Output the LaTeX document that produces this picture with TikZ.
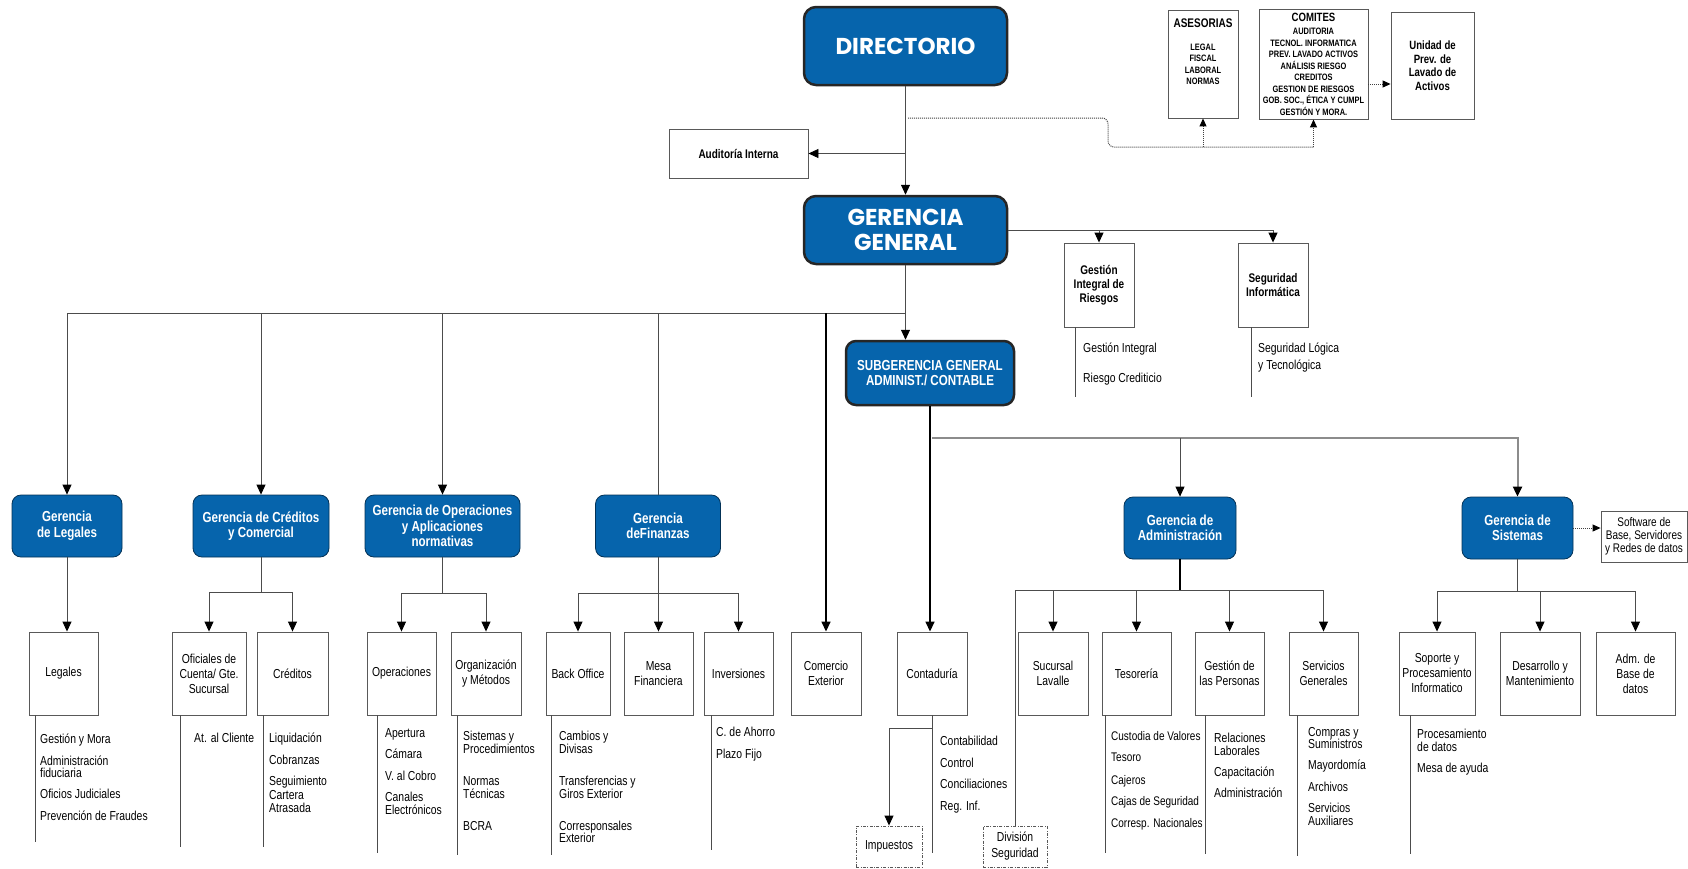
\documentclass[tikz,border=0pt]{standalone}
\usepackage{fontspec}
\usetikzlibrary{arrows.meta}
\newfontfamily\cond{Liberation Sans}[FakeStretch=0.8]
\newfontfamily\titulo{Poppins}
\definecolor{azul}{RGB}{6,100,172}
\tikzset{
  jefe/.style={draw=black!85, line width=2.5pt, fill=azul, rounded corners=12pt, text=white,
    font=\titulo\bfseries\fontsize{23}{25.5}\selectfont, align=center, inner sep=0pt},
  subjefe/.style={jefe, rounded corners=10pt, font=\cond\bfseries\fontsize{14.5}{14.5}\selectfont},
  gerencia/.style={draw=azul!50!black, line width=0.8pt, fill=azul, rounded corners=9pt, text=white,
    font=\cond\bfseries\fontsize{14.5}{15.5}\selectfont, align=center, inner sep=0pt, minimum height=62pt},
  caja/.style={draw=black!65, line width=0.9pt, fill=white, align=center, inner sep=0pt,
    minimum height=83pt, font=\cond\fontsize{13}{15}\selectfont},
  cajab/.style={caja, font=\cond\bfseries\fontsize{12.5}{14}\selectfont},
  discont/.style={caja, dash pattern=on 3pt off 1.5pt on 0.8pt off 1.5pt, minimum height=41pt, font=\cond\fontsize{13}{16}\selectfont},
  chico/.style={align=center, inner sep=0pt, font=\cond\bfseries\fontsize{9.3}{11.5}\selectfont},
  lista/.style={anchor=north west, align=left, inner sep=0pt, font=\cond\fontsize{13}{12.5}\selectfont},
  linea/.style={draw=black!70, line width=0.9pt},
  flecha/.style={linea, -{Triangle[length=10pt,width=9pt,color=black]}},
  gruesa/.style={draw=black, line width=1.5pt},
  punteo/.style={draw=black!75, line width=1pt, densely dotted},
  punteoflecha/.style={punteo, -{Triangle[length=8pt,width=7pt,color=black]}}
}
\begin{document}
\begin{tikzpicture}[x=1pt,y=-1pt]
  \fill[white] (0,0) rectangle (1688,868);
  \useasboundingbox (0,0) rectangle (1688,868);

  % direccion
  \node[jefe, minimum width=203pt, minimum height=78pt] (dir) at (905.5,46) {DIRECTORIO};
  \node[jefe, minimum width=203pt, minimum height=68pt] (gg) at (905.5,230) {GERENCIA\\GENERAL};
  \node[cajab, minimum width=139pt, minimum height=49pt] (audit) at (738.5,153.5) {Auditoría Interna};
  \node[caja, minimum width=70pt, minimum height=108pt] (ases) at (1203,64) {};
  \node[chico, anchor=north] (ases-t) at (1203,19) {{\fontsize{12.5}{14}\selectfont ASESORIAS}\\[11pt]LEGAL\\FISCAL\\LABORAL\\NORMAS};
  \node[caja, minimum width=109pt, minimum height=110pt] (comit) at (1313.5,64) {};
  \node[chico, anchor=north] (comit-t) at (1313.5,12.5) {{\fontsize{12}{14}\selectfont COMITES}\\[2.4pt]AUDITORIA\\TECNOL. INFORMATICA\\PREV. LAVADO ACTIVOS\\ANÁLISIS RIESGO\\CREDITOS\\GESTION DE RIESGOS\\GOB. SOC., ÉTICA Y CUMPL\\GESTIÓN Y MORA.};
  \node[cajab, font=\cond\bfseries\fontsize{12}{13.5}\selectfont, minimum width=83pt, minimum height=107pt] (unidad) at (1432.5,65.5) {Unidad de\\Prev. de\\Lavado de\\Activos};
  \node[cajab, minimum width=70pt, minimum height=84pt] (gir) at (1099,285) {Gestión\\Integral de\\Riesgos};
  \node[cajab, minimum width=70pt, minimum height=84pt] (seginf) at (1273,285) {Seguridad\\Informática};
  \node[subjefe, minimum width=168pt, minimum height=64pt] (subg) at (930,373) {SUBGERENCIA GENERAL\\ADMINIST./ CONTABLE};

  % gerencias
  \node[gerencia, minimum width=110pt] (gleg) at (67,526) {Gerencia\\de Legales};
  \node[gerencia, minimum width=136pt] (gcred) at (261,526) {Gerencia de Créditos\\y Comercial};
  \node[gerencia, minimum width=155pt] (gop) at (442.5,526) {Gerencia de Operaciones\\y Aplicaciones\\normativas};
  \node[gerencia, minimum width=125pt] (gfin) at (658,526) {Gerencia\\deFinanzas};
  \node[gerencia, minimum width=112pt] (gadm) at (1180,528) {Gerencia de\\Administración};
  \node[gerencia, minimum width=111pt] (gsis) at (1517.5,528) {Gerencia de\\Sistemas};
  \node[caja, font=\cond\fontsize{12.5}{13}\selectfont, minimum width=86pt, minimum height=51pt] (soft) at (1644,536.5) {Software de\\Base, Servidores\\y Redes de datos};

  % areas
  \node[caja, minimum width=69pt] (legal) at (63.5,673.5) {Legales};
  \node[caja, minimum width=74pt] (ofic) at (209,673.5) {Oficiales de\\Cuenta/ Gte.\\Sucursal};
  \node[caja, minimum width=71pt] (cred) at (292.5,673.5) {Créditos};
  \node[caja, minimum width=69pt] (oper) at (401.5,673.5) {Operaciones};
  \node[caja, minimum width=70pt] (orgm) at (486,673.5) {Organización\\y Métodos};
  \node[caja, minimum width=64pt] (back) at (578,673.5) {Back Office};
  \node[caja, minimum width=69pt] (mesa) at (658.5,673.5) {Mesa\\Financiera};
  \node[caja, minimum width=69pt] (inv) at (738.5,673.5) {Inversiones};
  \node[caja, minimum width=70pt] (comex) at (826,673.5) {Comercio\\Exterior};
  \node[caja, minimum width=70pt] (cont) at (932,673.5) {Contaduría};
  \node[caja, minimum width=70pt] (suc) at (1053,673.5) {Sucursal\\Lavalle};
  \node[caja, minimum width=69pt] (teso) at (1136.5,673.5) {Tesorería};
  \node[caja, minimum width=69pt] (gper) at (1229.5,673.5) {Gestión de\\las Personas};
  \node[caja, minimum width=69pt] (serv) at (1323.5,673.5) {Servicios\\Generales};
  \node[caja, minimum width=76pt] (sop) at (1437,673.5) {Soporte y\\Procesamiento\\Informatico};
  \node[caja, minimum width=80pt] (desa) at (1540,673.5) {Desarrollo y\\Mantenimiento};
  \node[caja, minimum width=79pt] (admb) at (1635.5,673.5) {Adm. de\\Base de\\datos};
  \node[discont, minimum width=66pt] (imp) at (889,846.5) {Impuestos};
  \node[discont, minimum width=64pt] (divs) at (1015,846.5) {División\\Seguridad};

  % funciones
  \node[lista] (gir-l) at (1083,343) {Gestión Integral\\[17.5pt]Riesgo Crediticio};
  \node[lista] (seg-l) at (1258,343) {Seguridad Lógica\\[4.5pt]y Tecnológica};
  \node[lista] (legal-l) at (40,734) {Gestión y Mora\\[9pt]Administración\\fiduciaria\\[8.5pt]Oficios Judiciales\\[9.5pt]Prevención de Fraudes};
  \node[lista] (ofic-l) at (194,733) {At. al Cliente};
  \node[lista] (cred-l) at (269,733) {Liquidación\\[9pt]Cobranzas\\[9pt]Seguimiento\\[1pt]Cartera\\[1pt]Atrasada};
  \node[lista] (oper-l) at (385,728) {Apertura\\[9pt]Cámara\\[9pt]V. al Cobro\\[9pt]Canales\\Electrónicos};
  \node[lista] (orgm-l) at (463,731) {Sistemas y\\Procedimientos\\[20pt]Normas\\Técnicas\\[19.5pt]BCRA};
  \node[lista] (back-l) at (559,731) {Cambios y\\Divisas\\[20pt]Transferencias y\\Giros Exterior\\[19.5pt]Corresponsales\\Exterior};
  \node[lista] (inv-l) at (716,727) {C. de Ahorro\\[9pt]Plazo Fijo};
  \node[lista] (cont-l) at (940,736) {Contabilidad\\[9pt]Control\\[9pt]Conciliaciones\\[9pt]Reg. Inf.};
  \node[lista, font=\cond\fontsize{12.5}{12.5}\selectfont] (teso-l) at (1111,731) {Custodia de Valores\\[9pt]Tesoro\\[10pt]Cajeros\\[9pt]Cajas de Seguridad\\[9pt]Corresp. Nacionales};
  \node[lista] (gper-l) at (1214,733) {Relaciones\\Laborales\\[8.5pt]Capacitación\\[8.5pt]Administración};
  \node[lista] (serv-l) at (1308,727) {Compras y\\Suministros\\[8.5pt]Mayordomía\\[9pt]Archivos\\[9pt]Servicios\\Auxiliares};
  \node[lista] (sop-l) at (1417,729) {Procesamiento\\de datos\\[8.5pt]Mesa de ayuda};

  % conexiones superiores
  \draw[flecha] (dir.south) -- (gg.north);
  \draw[flecha] (dir.south |- audit.east) -- (audit.east);
  \coordinate (dotini) at (908,118);
  \coordinate (dotcodo) at (1108,147);
  \draw[punteo, rounded corners=6pt] (dotini) -- (dotini -| dotcodo) -- (dotcodo) -- (dotcodo -| comit.south);
  \draw[punteoflecha] (dotcodo -| comit.south) -- (comit.south);
  \draw[punteoflecha] (dotcodo -| ases.south) -- (ases.south);
  \coordinate (cu) at ([yshift=-20pt]comit.east);
  \draw[punteoflecha] (cu) -- (cu -| unidad.west);
  \draw[flecha] (gg.east) -| (seginf.north);
  \draw[flecha] (gir.north |- gg.east) -- (gir.north);
  \draw[linea] ([xshift=12pt]gir.south west) -- ++(0,70);
  \draw[linea] ([xshift=14pt]seginf.south west) -- ++(0,70);

  % gerencias
  \coordinate (bus) at (0,313);
  \draw[flecha] (gg.south) -- (gg.south |- subg.north);
  \draw[flecha] (gg.south |- bus) -| (gleg.north);
  \draw[flecha] (gcred.north |- bus) -- (gcred.north);
  \draw[flecha] (gop.north |- bus) -- (gop.north);
  \draw[linea] (gfin.north |- bus) -- (gfin.north);
  \draw[flecha, gruesa] (comex.north |- bus) -- (comex.north);
  \draw[flecha, gruesa] (subg.south) -- (subg.south |- cont.north);
  \coordinate (bus2) at (0,438);
  \draw[flecha, draw=black!45, line width=2pt] ([xshift=2pt]subg.south |- bus2) -| (gsis.north);
  \draw[flecha] (gadm.north |- bus2) -- (gadm.north);
  \draw[punteoflecha] (gsis.east) -- (gsis.east -| soft.west);

  % legales y creditos
  \draw[flecha] (gleg.south) -- (gleg.south |- legal.north);
  \coordinate (credbus) at (0,592);
  \draw[linea] (gcred.south) -- (gcred.south |- credbus);
  \draw[flecha] (ofic.north |- credbus) -- (ofic.north);
  \draw[flecha] (ofic.north |- credbus) -| (cred.north);

  % operaciones y finanzas
  \coordinate (opbus) at (0,593);
  \draw[linea] (gop.south) -- (gop.south |- opbus);
  \draw[flecha] (oper.north |- opbus) -- (oper.north);
  \draw[flecha] (oper.north |- opbus) -| (orgm.north);
  \draw[linea] (gfin.south) -- (gfin.south |- opbus);
  \draw[flecha] (back.north |- opbus) -- (back.north);
  \draw[flecha] (mesa.north |- opbus) -- (mesa.north);
  \draw[flecha] (back.north |- opbus) -| (inv.north);

  % contaduria y administracion
  \draw[flecha] ([yshift=-13pt]cont.south) -| (imp.north);
  \coordinate (admbus) at (0,590);
  \draw[gruesa] (gadm.south) -- (gadm.south |- admbus);
  \draw[linea] (divs.north |- admbus) -- (serv.north |- admbus);
  \draw[linea] (divs.north |- admbus) -- (divs.north);
  \foreach \n in {suc,teso,gper,serv}
    \draw[flecha] (\n.north |- admbus) -- (\n.north);

  % sistemas
  \coordinate (sisbus) at (0,591);
  \draw[linea] (gsis.south) -- (gsis.south |- sisbus);
  \draw[linea] (sop.north |- sisbus) -- (admb.north |- sisbus);
  \foreach \n in {sop,desa,admb}
    \draw[flecha] (\n.north |- sisbus) -- (\n.north);

  % lineas de funciones
  \draw[linea] ([xshift=7pt]legal.south west) -- ++(0,127);
  \draw[linea] ([xshift=9pt]ofic.south west) -- ++(0,132);
  \draw[linea] ([xshift=7pt]cred.south west) -- ++(0,132);
  \draw[linea] ([xshift=11pt]oper.south west) -- ++(0,138);
  \draw[linea] ([xshift=7pt]orgm.south west) -- ++(0,140);
  \draw[linea] ([xshift=6pt]back.south west) -- ++(0,140);
  \draw[linea] ([xshift=8pt]inv.south west) -- ++(0,135);
  \draw[linea] (cont.south) -- ++(0,138);
  \draw[linea] ([xshift=4pt]teso.south west) -- ++(0,138);
  \draw[linea] ([xshift=11pt]gper.south west) -- ++(0,139);
  \draw[linea] ([xshift=9pt]serv.south west) -- ++(0,141);
  \draw[linea] ([xshift=12pt]sop.south west) -- ++(0,139);
\end{tikzpicture}
\end{document}
